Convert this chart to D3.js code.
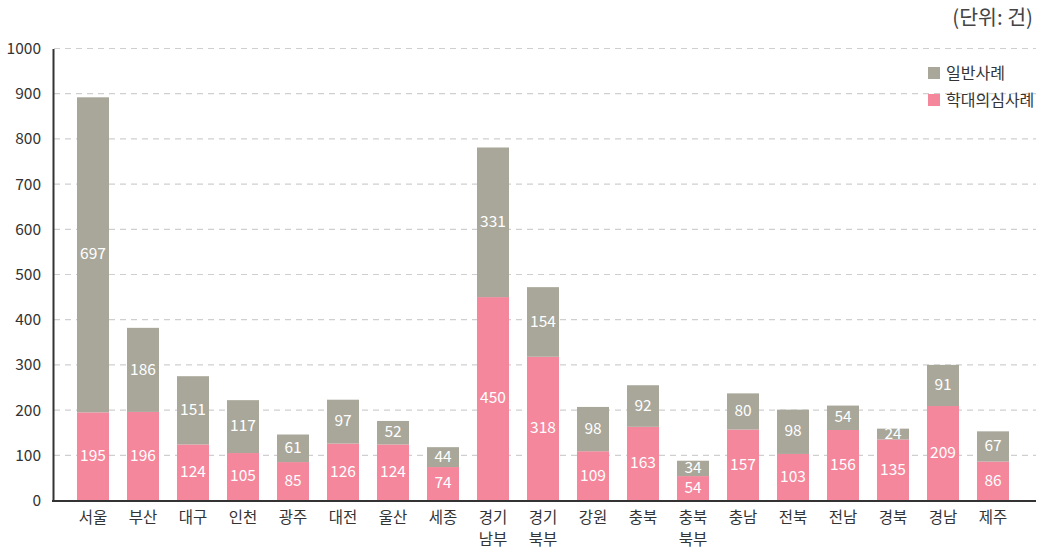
<!DOCTYPE html>
<html><head><meta charset="utf-8">
<script src="https://cdn.jsdelivr.net/npm/d3@7"></script>
<style>
body{margin:0;background:#fff;}
text{font-family:"Noto Sans CJK KR","Noto Sans",sans-serif;}
</style></head>
<body><svg id="c" width="1040" height="551"></svg>
<script>
const categories = ["서울","부산","대구","인천","광주","대전","울산","세종","경기\n남부","경기\n북부","강원","충북","충북\n북부","충남","전북","전남","경북","경남","제주"];
const abuse = [195,196,124,105,85,126,124,74,450,318,109,163,54,157,103,156,135,209,86];
const general = [697,186,151,117,61,97,52,44,331,154,98,92,34,80,98,54,24,91,67];
const seriesNames = ["일반사례","학대의심사례"];
const yTicks = [0,100,200,300,400,500,600,700,800,900,1000];
const colors = {general:"#a8a79a", abuse:"#f4879c"};

const svg = d3.select("#c");
const x = d3.scaleBand().domain(categories).range([52,1034]).paddingInner(0.36).paddingOuter(0.5);
const y = d3.scaleLinear().domain([0,1000]).range([500.5,48.5]);

// grid
svg.append("g").selectAll("line").data(yTicks.filter(d=>d>0)).join("line")
  .attr("x1",54).attr("x2",1036).attr("y1",d=>y(d)).attr("y2",d=>y(d))
  .attr("stroke","#cfcfcf").attr("stroke-width",1.2).attr("stroke-dasharray","6,5");

const data = categories.map((c,i)=>({c, a:abuse[i], g:general[i]}));
const bars = svg.append("g");
bars.selectAll("rect.a").data(data).join("rect")
  .attr("x",d=>x(d.c)).attr("width",x.bandwidth())
  .attr("y",d=>y(d.a)).attr("height",d=>y(0)-y(d.a)).attr("fill",colors.abuse);
bars.selectAll("rect.g").data(data).join("rect")
  .attr("x",d=>x(d.c)).attr("width",x.bandwidth())
  .attr("y",d=>y(d.a+d.g)).attr("height",d=>y(d.a)-y(d.a+d.g)).attr("fill",colors.general);

const lab = svg.append("g").attr("fill","#fff").attr("font-size",15.5).attr("text-anchor","middle");
lab.selectAll("text.a").data(data).join("text")
  .attr("x",d=>x(d.c)+x.bandwidth()/2).attr("y",d=>y(d.a/2)).attr("dy","0.3em").text(d=>d.a);
lab.selectAll("text.g").data(data).join("text")
  .attr("x",d=>x(d.c)+x.bandwidth()/2).attr("y",d=>y(d.a+d.g/2)).attr("dy","0.3em").text(d=>d.g);

// y axis
const ya = svg.append("g").attr("transform","translate(53,0)")
  .call(d3.axisLeft(y).tickValues(yTicks).tickFormat(d3.format("d")).tickSize(0).tickPadding(12));
ya.select(".domain").attr("stroke","#333").attr("stroke-width",2);
ya.selectAll("text").attr("font-size",15.5).attr("fill","#333").attr("font-family",'"Noto Sans CJK KR",sans-serif');

// x axis
svg.append("line").attr("x1",52).attr("x2",1036).attr("y1",501).attr("y2",501).attr("stroke","#333").attr("stroke-width",2);
const xl = svg.append("g").attr("font-size",15.5).attr("fill","#333").attr("text-anchor","middle");
xl.selectAll("text").data(categories).join("text")
  .attr("x",d=>x(d)+x.bandwidth()/2).attr("y",523)
  .each(function(d){
    const t=d3.select(this);
    d.split("\n").forEach((s,i)=>t.append("tspan").attr("x",x(d)+x.bandwidth()/2).attr("dy",i?22:0).text(s));
  });

// unit
svg.append("text").attr("x",1033).attr("y",25).attr("text-anchor","end").attr("font-size",20.5).attr("fill","#444").text("(단위: 건)");

// legend
const lg = svg.append("g");
[colors.general, colors.abuse].forEach((c,i)=>{
  lg.append("rect").attr("x",928).attr("y",67+i*27).attr("width",12).attr("height",12).attr("fill",c);
  lg.append("text").attr("x",946).attr("y",73+i*27).attr("dy","0.36em").attr("font-size",16).attr("fill","#333").text(seriesNames[i]);
});
</script></body></html>
